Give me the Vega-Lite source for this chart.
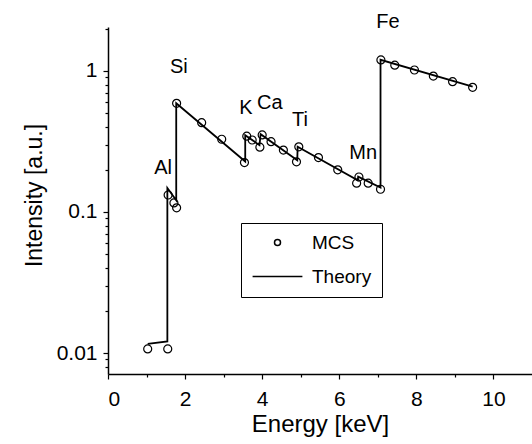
{
  "$schema": "https://vega.github.io/schema/vega-lite/v6.json",
  "width": 424,
  "height": 347,
  "autosize": {"type": "none"},
  "padding": {"left": 108, "top": 27, "right": 0, "bottom": 70},
  "config": {
    "view": {"stroke": null},
    "font": "Liberation Sans",
    "axis": {
      "domainColor": "black",
      "domainWidth": 1.5,
      "tickColor": "black",
      "tickWidth": 1.2,
      "labelColor": "black",
      "titleColor": "black",
      "grid": false,
      "labelFont": "Liberation Sans",
      "titleFont": "Liberation Sans",
      "titleFontWeight": "normal"
    }
  },
  "datasets": {
    "mcs": [
      {"energy": 1.03, "intensity": 0.0107, "series": "MCS"},
      {"energy": 1.55, "intensity": 0.0107, "series": "MCS"},
      {"energy": 1.56, "intensity": 0.132, "series": "MCS"},
      {"energy": 1.71, "intensity": 0.116, "series": "MCS"},
      {"energy": 1.78, "intensity": 0.107, "series": "MCS"},
      {"energy": 1.78, "intensity": 0.59, "series": "MCS"},
      {"energy": 2.43, "intensity": 0.43, "series": "MCS"},
      {"energy": 2.95, "intensity": 0.328, "series": "MCS"},
      {"energy": 3.54, "intensity": 0.224, "series": "MCS"},
      {"energy": 3.6, "intensity": 0.345, "series": "MCS"},
      {"energy": 3.74, "intensity": 0.324, "series": "MCS"},
      {"energy": 3.94, "intensity": 0.288, "series": "MCS"},
      {"energy": 4.0, "intensity": 0.352, "series": "MCS"},
      {"energy": 4.23, "intensity": 0.315, "series": "MCS"},
      {"energy": 4.55, "intensity": 0.275, "series": "MCS"},
      {"energy": 4.89, "intensity": 0.227, "series": "MCS"},
      {"energy": 4.95, "intensity": 0.29, "series": "MCS"},
      {"energy": 5.46, "intensity": 0.243, "series": "MCS"},
      {"energy": 5.96, "intensity": 0.199, "series": "MCS"},
      {"energy": 6.51, "intensity": 0.177, "series": "MCS"},
      {"energy": 6.45, "intensity": 0.16, "series": "MCS"},
      {"energy": 6.75, "intensity": 0.16, "series": "MCS"},
      {"energy": 7.07, "intensity": 0.145, "series": "MCS"},
      {"energy": 7.08, "intensity": 1.197, "series": "MCS"},
      {"energy": 7.44, "intensity": 1.1, "series": "MCS"},
      {"energy": 7.95, "intensity": 1.016, "series": "MCS"},
      {"energy": 8.44, "intensity": 0.92, "series": "MCS"},
      {"energy": 8.94, "intensity": 0.84, "series": "MCS"},
      {"energy": 9.46, "intensity": 0.766, "series": "MCS"}
    ],
    "theory": [
      {"i": 0, "energy": 1.03, "intensity": 0.0116},
      {"i": 1, "energy": 1.54, "intensity": 0.0121},
      {"i": 2, "energy": 1.54, "intensity": 0.148},
      {"i": 3, "energy": 1.77, "intensity": 0.121},
      {"i": 4, "energy": 1.77, "intensity": 0.59},
      {"i": 5, "energy": 3.56, "intensity": 0.228},
      {"i": 6, "energy": 3.56, "intensity": 0.35},
      {"i": 7, "energy": 3.93, "intensity": 0.298},
      {"i": 8, "energy": 3.96, "intensity": 0.356},
      {"i": 9, "energy": 4.91, "intensity": 0.233},
      {"i": 10, "energy": 4.92, "intensity": 0.29},
      {"i": 11, "energy": 6.48, "intensity": 0.168},
      {"i": 12, "energy": 6.49, "intensity": 0.178},
      {"i": 13, "energy": 7.07, "intensity": 0.149},
      {"i": 14, "energy": 7.07, "intensity": 1.2},
      {"i": 15, "energy": 9.46, "intensity": 0.775}
    ],
    "labels": [
      {"element": "Al", "energy": 1.43, "intensity": 0.205},
      {"element": "Si", "energy": 1.84, "intensity": 1.07},
      {"element": "K", "energy": 3.58, "intensity": 0.544},
      {"element": "Ca", "energy": 4.2, "intensity": 0.59},
      {"element": "Ti", "energy": 4.98, "intensity": 0.45},
      {"element": "Mn", "energy": 6.62, "intensity": 0.263},
      {"element": "Fe", "energy": 7.26, "intensity": 2.23}
    ]
  },
  "layer": [
    {
      "data": {"name": "theory"},
      "mark": {"type": "line", "color": "black", "strokeWidth": 1.8},
      "encoding": {
        "x": {
          "field": "energy", "type": "quantitative",
          "scale": {"domain": [0, 11], "nice": false, "zero": false},
          "axis": {
            "orient": "bottom", "values": [0, 2, 4, 6, 8, 10], "tickSize": 5,
            "labelFontSize": 21, "labelPadding": 9, "title": "Energy [keV]",
            "titleFontSize": 24, "titlePadding": 3
          }
        },
        "y": {
          "field": "intensity", "type": "quantitative",
          "scale": {"type": "log", "domain": [0.0071, 2.05], "nice": false},
          "axis": {
            "orient": "left", "values": [0.01, 0.1, 1], "format": "~g", "tickSize": 5,
            "labelFontSize": 21, "labelPadding": 6, "title": "Intensity [a.u.]",
            "titleFontSize": 23, "titlePadding": 10, "titleY": 168
          }
        },
        "order": {"field": "i", "type": "quantitative"}
      }
    },
    {
      "data": {"name": "mcs"},
      "mark": {"type": "point", "filled": false, "color": "black", "size": 64, "strokeWidth": 1.2, "opacity": 1},
      "encoding": {
        "x": {
          "field": "energy", "type": "quantitative",
          "scale": {"domain": [0, 11], "nice": false, "zero": false},
          "axis": {"orient": "bottom", "values": [1, 3, 5, 7, 9], "tickSize": 3, "labels": false, "domain": false, "title": null}
        },
        "y": {
          "field": "intensity", "type": "quantitative",
          "scale": {"type": "log", "domain": [0.0071, 2.05], "nice": false},
          "axis": {
            "orient": "left",
            "values": [0.008, 0.009, 0.02, 0.03, 0.04, 0.05, 0.06, 0.07, 0.08, 0.09, 0.2, 0.3, 0.4, 0.5, 0.6, 0.7, 0.8, 0.9, 2],
            "tickSize": 3, "labels": false, "domain": false, "title": null
          }
        },
        "shape": {
          "field": "series", "type": "nominal",
          "scale": {"domain": ["MCS", "Theory"], "range": ["circle", "M-8.3,0L8.3,0"]},
          "legend": {
            "orient": "none", "legendX": 133, "legendY": 196, "title": null,
            "strokeColor": "black", "padding": 10, "labelFontSize": 19, "labelColor": "black",
            "labelFont": "Liberation Sans", "rowPadding": 14, "symbolSize": 36,
            "symbolOffset": 17, "labelOffset": 25,
            "symbolStrokeColor": "black", "symbolFillColor": "transparent", "symbolStrokeWidth": 1.5,
            "encode": {
              "symbols": {
                "update": {
                  "size": {"value": 36},
                  "stroke": {"value": "black"},
                  "fill": {"value": "transparent"}
                }
              }
            }
          }
        }
      }
    },
    {
      "data": {"name": "labels"},
      "mark": {"type": "text", "fontSize": 20, "align": "center", "baseline": "middle", "color": "black", "font": "Liberation Sans"},
      "encoding": {
        "x": {"field": "energy", "type": "quantitative", "scale": {"domain": [0, 11], "nice": false, "zero": false}, "axis": null},
        "y": {"field": "intensity", "type": "quantitative", "scale": {"type": "log", "domain": [0.0071, 2.05], "nice": false}, "axis": null},
        "text": {"field": "element"}
      }
    }
  ],
  "resolve": {"axis": {"x": "independent", "y": "independent"}}
}
